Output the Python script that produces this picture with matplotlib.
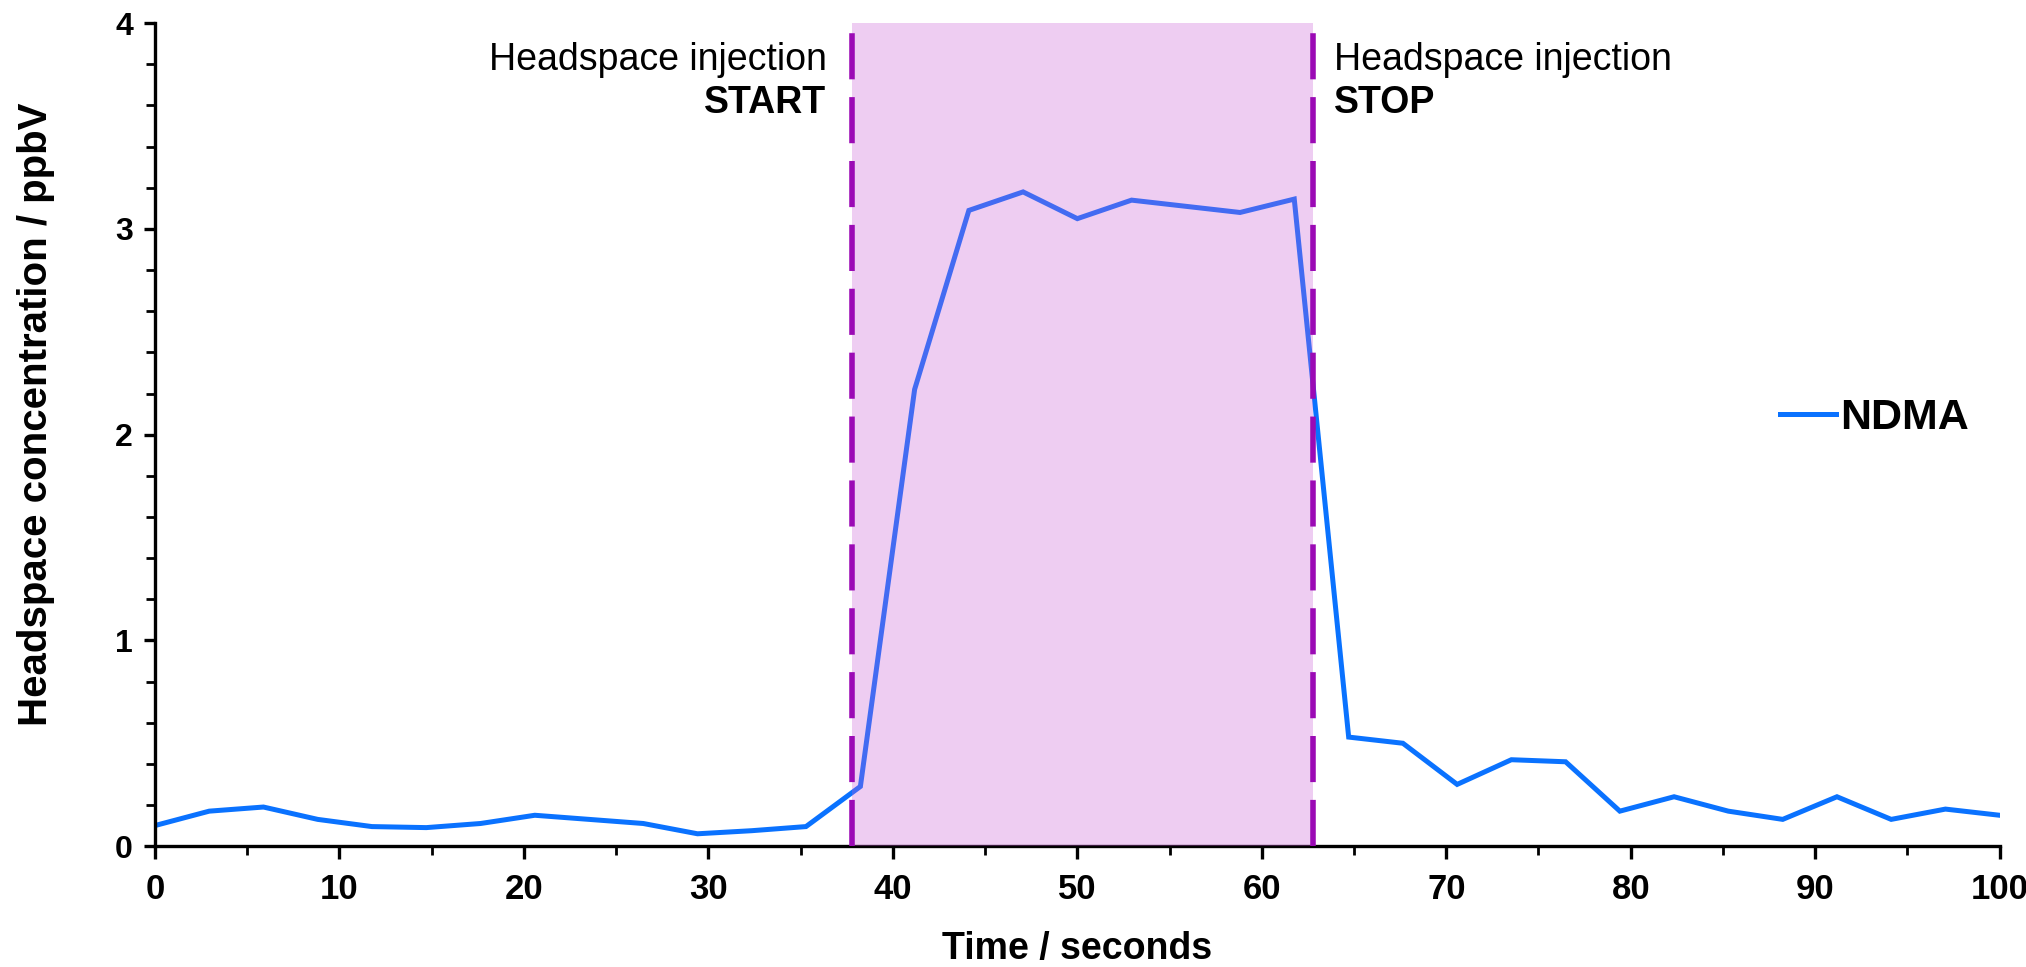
import matplotlib
matplotlib.use("Agg")
import matplotlib.pyplot as plt
from matplotlib.ticker import MultipleLocator

# ---- data ----
time_s = [0.0, 2.94, 5.88, 8.82, 11.76, 14.71, 17.65, 20.59, 23.53, 26.47,
          29.41, 32.35, 35.29, 38.24, 41.18, 44.12, 47.06, 50.0, 52.94, 55.88,
          58.82, 61.76, 64.71, 67.65, 70.59, 73.53, 76.47, 79.41, 82.35, 85.29,
          88.24, 91.18, 94.12, 97.06, 100.0]
ndma = [0.10, 0.17, 0.19, 0.13, 0.095, 0.09, 0.11, 0.15, 0.13, 0.11,
        0.06, 0.075, 0.095, 0.29, 2.22, 3.09, 3.18, 3.05, 3.14, 3.11,
        3.08, 3.145, 0.53, 0.50, 0.30, 0.42, 0.41, 0.17, 0.24, 0.17,
        0.13, 0.24, 0.13, 0.18, 0.15]
inj_start = 37.8
inj_stop = 62.8
series_label = "NDMA"

plt.rcParams['font.family'] = ['Liberation Sans', 'DejaVu Sans']

fig = plt.figure(figsize=(20.26, 9.67), dpi=100)
ax = fig.add_axes([0.0765, 0.125, 0.9105, 0.851])

ax.plot(time_s, ndma, color='#0A72FF', lw=3.6, label=series_label, zorder=2,
        solid_joinstyle='miter')
ax.axvspan(inj_start, inj_stop, ymin=0, ymax=1, color=(0.78, 0.36, 0.84),
           alpha=0.3, lw=0, zorder=3)
for xv in (inj_start, inj_stop):
    ax.axvline(xv, color='#9B0AB5', lw=4, linestyle=(0, (8.3, 3.2)), zorder=4)

ax.set_xlim(0, 100)
ax.set_ylim(0, 4)

ax.spines['top'].set_visible(False)
ax.spines['right'].set_visible(False)
for s in ('left', 'bottom'):
    ax.spines[s].set_linewidth(2.4)

ax.xaxis.set_major_locator(MultipleLocator(10))
ax.xaxis.set_minor_locator(MultipleLocator(5))
ax.yaxis.set_major_locator(MultipleLocator(1))
ax.yaxis.set_minor_locator(MultipleLocator(0.2))
ax.tick_params(which='major', direction='out', length=8, width=2.4, pad=8)
ax.tick_params(axis='x', which='major', length=9, pad=10, labelsize=25)
ax.tick_params(axis='y', which='major', labelsize=23)
ax.tick_params(which='minor', direction='out', length=6.5, width=2.0)
fig.canvas.draw()
for lab in ax.get_xticklabels() + ax.get_yticklabels():
    lab.set_fontweight('bold')

ax.set_xlabel("Time / seconds", fontsize=27, fontweight='bold')
ax.xaxis.set_label_coords(0.5, -0.103)
ax.set_ylabel("Headspace concentration / ppbV", fontsize=29, fontweight='bold')
ax.yaxis.set_label_coords(-0.054, 0.525)

ax.text(inj_start - 1.4, 3.82, "Headspace injection", ha='right', va='center',
        fontsize=27)
ax.text(inj_start - 1.4, 3.61, "START", ha='right', va='center',
        fontsize=27, fontweight='bold')
ax.text(inj_stop + 1.1, 3.82, "Headspace injection", ha='left', va='center',
        fontsize=27)
ax.text(inj_stop + 1.1, 3.61, "STOP", ha='left', va='center',
        fontsize=27, fontweight='bold')

leg = ax.legend(loc='center left', bbox_to_anchor=(0.881, 0.52), frameon=False,
                handlelength=1.3, handletextpad=0.1, borderpad=0, borderaxespad=0,
                prop={'size': 31, 'weight': 'bold'})

fig.savefig("out.png", dpi=100, facecolor='white')
